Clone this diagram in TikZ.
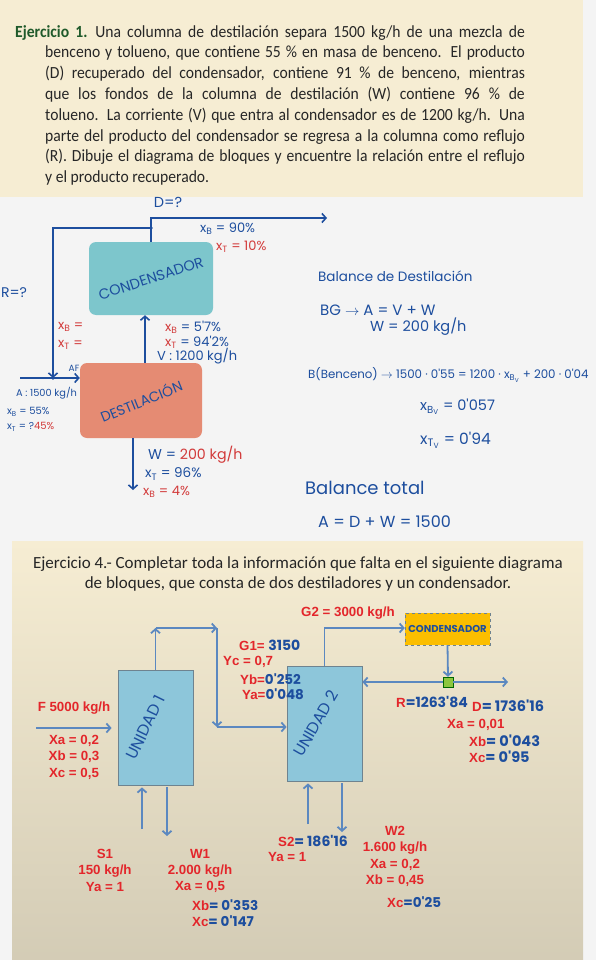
\documentclass[tikz,border=0pt]{standalone}
\usepackage{fontspec}
\setmainfont{Carlito}
\newfontfamily\handfont{Poppins}
\newfontfamily\arialfont{Liberation Sans}
\usetikzlibrary{arrows.meta,positioning,calc}
\definecolor{handblue}  {HTML}{1D4E9E}
\definecolor{handred}   {HTML}{D23A3A}
\definecolor{labred}    {HTML}{E3262B}
\definecolor{ejgreen}   {HTML}{1F5A2A}
\definecolor{condteal}  {HTML}{7DC6CC}
\definecolor{destsalmon}{HTML}{E58B73}
\definecolor{flowblue}  {HTML}{5B88C0}
\definecolor{unitblue}  {HTML}{8DC6DA}
\definecolor{unitedge}  {HTML}{6E8390}
\definecolor{condgold}  {HTML}{FBBE00}
\definecolor{mixgreen}  {HTML}{8CC63F}
\definecolor{panelbeige}{HTML}{F6EDD3}
\definecolor{pagegray}  {HTML}{F4F4F4}
\newcommand\handsz[1]{\handfont\fontsize{#1}{#1}\selectfont}

\begin{document}
\begin{tikzpicture}[
  x=1pt,y=-1pt,
  hand/.style={inner sep=0pt,text=handblue,font=\handsz{13}},
  handr/.style={hand,text=handred},
  lab/.style={inner sep=0pt,text=labred,align=center,
              font=\arialfont\bfseries\fontsize{13.3}{16.3}\selectfont},
  condbox/.style={fill=condteal,rounded corners=7pt,text=handblue,
                  minimum width=124pt,minimum height=73pt,inner sep=0pt},
  destbox/.style={fill=destsalmon,rounded corners=7pt,text=handblue,
                  minimum width=122pt,minimum height=75pt,inner sep=0pt},
  unitbox/.style={draw=unitedge,fill=unitblue,line width=0.8pt,text=handblue,
                  minimum width=75pt,minimum height=115pt,inner sep=0pt},
  condsmall/.style={draw=unitedge,dashed,fill=condgold,text=handblue,
                    minimum width=85pt,minimum height=32pt,inner sep=0pt},
  mixbox/.style={draw=green!40!black,fill=mixgreen,minimum size=10pt,inner sep=0pt},
  pipe/.style={draw=handblue,line width=1.6pt,-{Straight Barb[length=4pt,width=9pt]}},
  flow/.style={draw=flowblue,line width=1.8pt,-{Straight Barb[length=4pt,width=9pt]}}
]
\useasboundingbox (0,0) rectangle (596,960);

% backgrounds
\fill[pagegray] (0,0) rectangle (596,960);
\fill[panelbeige] (0,0) rectangle (583,197);
\shade[top color=panelbeige,middle color=black!7!panelbeige,bottom color=black!14!panelbeige]
  (12,541) rectangle (583,960);

% Ejercicio 1
\node[inner sep=0pt,anchor=north west] (ej1) at (15,25)
  {\scalebox{0.92}[1]{\parbox{554pt}{\fontsize{17}{20.8}\selectfont\color{black!85}%
   \hyphenpenalty=10000\emergencystretch=20pt
   \hangindent=32.6pt\hangafter=1\noindent{\color{ejgreen}\bfseries Ejercicio 1.}\enspace
   Una columna de destilación separa 1500 kg/h de una mezcla de\linebreak
   benceno y tolueno, que contiene 55 \% en masa de benceno. El producto\linebreak
   (D) recuperado del condensador, contiene 91 \% de benceno, mientras\linebreak
   que los fondos de la columna de destilación (W) contiene 96 \% de\linebreak
   tolueno. La corriente (V) que entra al condensador es de 1200 kg/h. Una\linebreak
   parte del producto del condensador se regresa a la columna como reflujo\linebreak
   (R). Dibuje el diagrama de bloques y encuentre la relación entre el reflujo\linebreak
   y el producto recuperado.}}};

% block diagram 1
\node[condbox] (cond) at (151,278.5) {\rotatebox{18}{\handsz{14.5}CONDENSADOR}};
\node[destbox] (dest) at (141,400.5) {\rotatebox{22}{\handsz{14}DESTILACIÓN}};

\coordinate (dtop)   at (151,218);
\coordinate (dout)   at (327,218);
\coordinate (rsplit) at (151,228);
\coordinate (fmix)   at (53,378);
\coordinate (fin)    at (20,378);
\coordinate (vline)  at (145,0);
\coordinate (wline)  at (133,0);
\coordinate (wout)   at (133,490);

\draw[pipe] (cond.north) -- (dtop) -- (dout);
\draw[pipe] (rsplit) -| (fmix);
\fill[handblue] (rsplit) circle (1.8) (fmix) circle (1.8);
\draw[pipe] (fin) -- (fin -| dest.west);
\draw[pipe] (dest.north -| vline) -- (cond.south -| vline);
\draw[pipe] (dest.south -| wline) -- (wout);

\node[hand,font=\handsz{14.5}] (dq) at (168,202) {D=?};
\node[hand,anchor=west] (xb90) at (200,229) {x\textsubscript{B} = 90\%};
\node[handr,anchor=west] (xt10) at (216,247) {x\textsubscript{T} = 10\%};
\node[hand,font=\handsz{14}] (rq) at (14,293) {R=?};
\node[handr,anchor=west] (xbr) at (58,327) {x\textsubscript{B} =};
\node[handr,anchor=west] (xtr) at (58,345) {x\textsubscript{T} =};
\node[hand,anchor=west] (xbv) at (165,327) {\textcolor{handred}{x\textsubscript{B}} = 5'7\%};
\node[hand,anchor=west] (xtv) at (165,342) {\textcolor{handred}{x\textsubscript{T}} = 94'2\%};
\node[hand,anchor=west] (vflow) at (157,356) {V : 1200 kg/h};
\node[hand,font=\handsz{9}] (af) at (74,368) {AF};
\node[hand,anchor=west,font=\handsz{9.8}] (aflow) at (16,393) {A : 1500 kg/h};
\node[hand,anchor=west,font=\handsz{10}] (xba) at (7,412) {x\textsubscript{B} = 55\%};
\node[hand,anchor=west,font=\handsz{10}] (xta) at (7,427) {x\textsubscript{T} = ?\textcolor{handred}{45\%}};
\node[hand,anchor=west,font=\handsz{14.2}] (wflow) at (148,455) {W = \textcolor{handred}{200 kg/h}};
\node[hand,anchor=west,font=\handsz{13.5}] (xtw) at (145,474) {x\textsubscript{T} = 96\%};
\node[handr,anchor=west] (xbw) at (143,492) {x\textsubscript{B} = 4\%};

% balances
\node[hand,anchor=west,font=\handsz{13.5}] (bdest) at (318,276) {Balance de Destilación};
\node[hand,anchor=west,font=\handsz{15}] (bg) at (320,310) {BG $\rightarrow$ A = V + W};
\node[hand,anchor=west,font=\handsz{14.5}] (bgw) at (370,327) {W = 200 kg/h};
\node[hand,anchor=west,font=\handsz{11.8}] (bb) at (308,375)
  {B(Benceno) $\rightarrow$ 1500 · 0'55 = 1200 · x\textsubscript{B\textsubscript{V}} + 200 · 0'04};
\node[hand,anchor=west,font=\handsz{14.5}] (xbvr) at (420,407) {x\textsubscript{B\textsubscript{V}} = 0'057};
\node[hand,anchor=west,font=\handsz{15.5}] (xtvr) at (420,440) {x\textsubscript{T\textsubscript{V}} = 0'94};
\node[hand,anchor=west,font=\handsz{18}] (btot) at (305,488) {Balance total};
\node[hand,anchor=west,font=\handsz{16}] (atot) at (318,522) {A = D + W = 1500};

% Ejercicio 4
\node[inner sep=0pt,align=center,text=black!85,font=\fontsize{17}{20.5}\selectfont,anchor=north] (ej4) at (298,556)
  {Ejercicio 4.- Completar toda la información que falta en el siguiente diagrama\\
   de bloques, que consta de dos destiladores y un condensador.};

% block diagram 2
\node[unitbox] (u1) at (155.5,727.5) {\hspace*{-20pt}\rotatebox{64}{\handsz{16}UNIDAD 1}};
\node[unitbox] (u2) at (324.5,723.5) {\hspace*{-17pt}\rotatebox{60}{\handsz{16}UNIDAD 2}};
\node[condsmall] (cond2) at (447.5,629) {\handsz{10}\bfseries CONDENSADOR};
\node[mixbox] (mix) at (448,682) {};

\coordinate (g1up)   at (155.5,628);
\coordinate (g1over) at (217,628);
\coordinate (g1down) at (217,727);
\coordinate (g2up)   at (324.5,628);
\coordinate (dout2)  at (508,682);
\coordinate (fin2)   at (36,728);
\coordinate (s1in)   at (142,829);
\coordinate (w1out)  at (167,836);
\coordinate (s2in)   at (308,824);
\coordinate (w2out)  at (342,832);

\draw[flow] (u1.north) -- (g1up);
\draw[flow] (g1up) -- (g1over);
\draw[flow] (g1over) -- (g1down);
\draw[flow] (g1down) -- (g1down -| u2.west);
\draw[flow] (u2.north) -- (g2up) -- (g2up -| cond2.west);
\draw[flow] (cond2.south) -- (mix.north);
\draw[flow] (mix.west) -- (mix.west -| u2.east);
\draw[flow] (mix.east) -- (dout2);
\draw[flow,shorten >=6pt] (fin2) -- (fin2 -| u1.west);
\draw[flow,shorten >=2pt] (s1in) -- (s1in |- u1.south);
\draw[flow,shorten <=2pt] (w1out |- u1.south) -- (w1out);
\draw[flow,shorten >=2pt] (s2in) -- (s2in |- u2.south);
\draw[flow,shorten <=2pt] (w2out |- u2.south) -- (w2out);

\node[lab] (g2) at (348,613) {G2 = 3000 kg/h};
\node[lab,anchor=west] (g1) at (239,645) {G1= \textcolor{handblue}{\handsz{14}3150}};
\node[lab,anchor=west] (yc) at (223,662) {Yc = 0,7};
\node[lab,anchor=west] (yb) at (240,679) {Yb=\textcolor{handblue}{\handsz{13.5}0'252}};
\node[lab,anchor=west] (ya) at (242,694) {Ya=\textcolor{handblue}{\handsz{13.5}0'048}};
\node[lab] (ff) at (74,708) {F 5000 kg/h};
\node[lab,anchor=north] (fx) at (74,735) {Xa = 0,2\\Xb = 0,3\\Xc = 0,5};
\node[lab,anchor=west] (rr) at (396,702) {R\textcolor{handblue}{\handsz{14}=1263'84}};
\node[lab,anchor=west] (dd) at (472,706) {D\textcolor{handblue}{\handsz{14.5}= 1736'16}};
\node[lab,anchor=west] (dxa) at (447,725) {Xa = 0,01};
\node[lab,anchor=west] (dxb) at (469,741) {Xb\textcolor{handblue}{\handsz{14.5}= 0'043}};
\node[lab,anchor=west] (dxc) at (469,757) {Xc\textcolor{handblue}{\handsz{14.5}= 0'95}};
\node[lab,anchor=west] (s2) at (278,841) {S2\textcolor{handblue}{\handsz{14}= 186'16}};
\node[lab,anchor=west] (s2ya) at (268,857) {Ya = 1};
\node[lab,anchor=north] (w2) at (395,826) {W2\\1.600 kg/h\\Xa = 0,2\\Xb = 0,45};
\node[lab,anchor=west] (w2xc) at (387,902) {Xc\textcolor{handblue}{\handsz{13.5}=0'25}};
\node[lab,anchor=north] (s1) at (105,849) {S1\\150 kg/h\\Ya = 1};
\node[lab,anchor=north] (w1) at (200,849) {W1\\2.000 kg/h\\Xa = 0,5};
\node[lab,anchor=west] (w1xb) at (192,905) {Xb\textcolor{handblue}{\handsz{13.5}= 0'353}};
\node[lab,anchor=west] (w1xc) at (192,921) {Xc\textcolor{handblue}{\handsz{13.5}= 0'147}};
\end{tikzpicture}
\end{document}
